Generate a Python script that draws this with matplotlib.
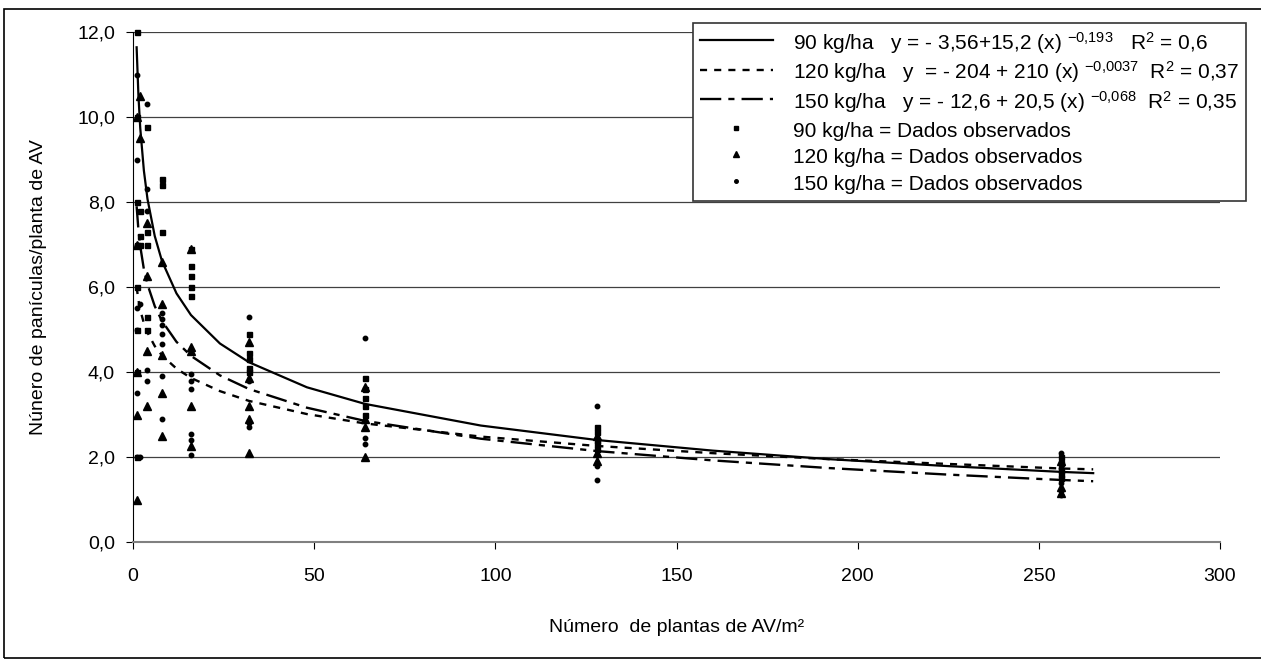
import matplotlib
matplotlib.use('Agg')
import matplotlib.pyplot as plt
from matplotlib.patches import Rectangle
from matplotlib.ticker import FuncFormatter

plt.rcParams['font.family'] = ['Liberation Sans', 'DejaVu Sans']
plt.rcParams['mathtext.fontset'] = 'custom'
plt.rcParams['mathtext.rm'] = 'Liberation Sans'
plt.rcParams['mathtext.it'] = 'Liberation Sans'
plt.rcParams['mathtext.default'] = 'regular'

# curves
curve_x = [1, 1.5, 2, 3, 4, 6, 8, 12, 16, 24, 32, 48, 64, 96, 128, 160, 192, 224, 256, 265]
curve_90 = [11.64, 10.50, 9.74, 8.74, 8.07, 7.20, 6.61, 5.85, 5.34, 4.67, 4.23, 3.64,
            3.25, 2.74, 2.40, 2.15, 1.95, 1.79, 1.65, 1.62]
curve_120 = [6.00, 5.69, 5.46, 5.15, 4.93, 4.61, 4.39, 4.08, 3.86, 3.55, 3.32, 3.01,
             2.79, 2.48, 2.26, 2.09, 1.95, 1.84, 1.73, 1.71]
curve_150 = [7.90, 7.34, 6.96, 6.42, 6.06, 5.55, 5.20, 4.71, 4.38, 3.92, 3.60, 3.16,
             2.85, 2.43, 2.14, 1.92, 1.74, 1.59, 1.46, 1.43]

# observed data (plants/m2, panicles/plant)
obs90_x = [1, 1, 1, 1, 1, 1, 1, 1,
           2, 2, 2,
           4, 4, 4, 4, 4,
           8, 8, 8,
           16, 16, 16, 16, 16,
           32, 32, 32, 32, 32,
           64, 64, 64, 64, 64,
           128, 128, 128, 128, 128,
           256, 256, 256, 256, 256]
obs90_y = [12.0, 10.0, 8.0, 7.0, 6.0, 5.0, 4.0, 2.0,
           7.8, 7.2, 7.0,
           9.76, 7.3, 7.0, 5.3, 5.0,
           8.55, 8.4, 7.3,
           6.9, 6.5, 6.25, 6.0, 5.8,
           4.9, 4.45, 4.3, 4.1, 4.0,
           3.85, 3.6, 3.4, 3.2, 3.0,
           2.7, 2.6, 2.4, 2.3, 2.2,
           2.0, 1.85, 1.7, 1.6, 1.5]

obs120_x = [1, 1, 1, 1, 1,
            2, 2,
            4, 4, 4, 4,
            8, 8, 8, 8, 8,
            16, 16, 16, 16, 16,
            32, 32, 32, 32, 32,
            64, 64, 64, 64,
            128, 128, 128,
            256, 256, 256]
obs120_y = [10.0, 7.0, 4.0, 3.0, 1.0,
            10.5, 9.5,
            7.5, 6.25, 4.5, 3.2,
            6.6, 5.6, 4.4, 3.5, 2.5,
            6.9, 4.6, 4.5, 3.2, 2.25,
            4.7, 3.85, 3.2, 2.9, 2.1,
            3.65, 2.9, 2.7, 2.0,
            2.5, 2.1, 1.9,
            1.9, 1.3, 1.15]

obs150_x = [1, 1, 1, 1, 1, 1, 1, 1,
            2, 2,
            4, 4, 4, 4, 4,
            8, 8, 8, 8, 8, 8, 8,
            16, 16, 16, 16, 16, 16,
            32, 32, 32, 32,
            64, 64, 64,
            128, 128, 128, 128,
            256, 256, 256, 256, 256]
obs150_y = [11.0, 9.0, 7.0, 5.5, 5.0, 4.0, 3.5, 2.0,
            5.6, 2.0,
            10.3, 8.3, 7.8, 4.05, 3.8,
            5.4, 5.25, 5.1, 4.9, 4.65, 3.9, 2.9,
            3.95, 3.8, 3.6, 2.55, 2.4, 2.05,
            5.3, 3.8, 2.8, 2.7,
            4.8, 2.45, 2.3,
            3.2, 2.05, 1.8, 1.45,
            2.1, 1.75, 1.4, 1.2, 1.1]

labels = ['90 kg/ha   y = - 3,56+15,2 (x) $^{-0{,}193}$   R$^{2}$ = 0,6',
          '120 kg/ha   y  = - 204 + 210 (x) $^{-0{,}0037}$  R$^{2}$ = 0,37',
          '150 kg/ha   y = - 12,6 + 20,5 (x) $^{-0{,}068}$  R$^{2}$ = 0,35',
          '90 kg/ha = Dados observados',
          '120 kg/ha = Dados observados',
          '150 kg/ha = Dados observados']

fig = plt.figure(figsize=(12.61, 6.59), dpi=100)
ax = fig.add_axes([133/1261, 1 - 542/659, (1220 - 133)/1261, (542 - 32)/659])

l1, = ax.plot(curve_x, curve_90, color='black', lw=1.6, linestyle='-')
l2, = ax.plot(curve_x, curve_120, color='black', lw=1.7, linestyle=(0, (3.0, 3.0)))
l3, = ax.plot(curve_x, curve_150, color='black', lw=1.7, linestyle=(0, (9.0, 3.0, 2.6, 3.0)))
s1, = ax.plot(obs90_x, obs90_y, 's', color='black', ms=3.6, ls='none', clip_on=False)
s2, = ax.plot(obs120_x, obs120_y, '^', color='black', ms=5.5, ls='none', clip_on=False)
s3, = ax.plot(obs150_x, obs150_y, 'o', color='black', ms=3.2, ls='none', clip_on=False)

ax.set_xlim(0, 300)
ax.set_ylim(0, 12)
ax.set_xticks([0, 50, 100, 150, 200, 250, 300])
ax.set_yticks([0, 2, 4, 6, 8, 10, 12])
ax.yaxis.set_major_formatter(FuncFormatter(lambda v, p: ('%.1f' % v).replace('.', ',')))
ax.grid(axis='y', color='#404040', lw=0.9)
ax.set_axisbelow(True)
for side in ['top', 'right']:
    ax.spines[side].set_visible(False)
ax.spines['left'].set_color('black')
ax.spines['bottom'].set_color('#808080')
ax.spines['bottom'].set_linewidth(1.5)
ax.tick_params(axis='both', direction='out', length=5, labelsize=14, colors='black')
ax.tick_params(axis='y', pad=8)
ax.tick_params(axis='x', pad=14)

ax.set_xlabel('Número  de plantas de AV/m²', fontsize=14, labelpad=24)
ax.set_ylabel('Núnero de panículas/planta de AV', fontsize=14, labelpad=22)

leg = fig.legend([l1, l2, l3, s1, s2, s3], labels, loc='upper left',
                 bbox_to_anchor=(693/1261, 1 - 23/659), fontsize=15,
                 frameon=True, fancybox=False, edgecolor='#333333',
                 handlelength=3.5, handleheight=1.3, handletextpad=1.0,
                 labelspacing=0.18, borderpad=0.32, borderaxespad=0,
                 markerscale=0.8)
leg.get_frame().set_linewidth(1.2)
leg.get_frame().set_alpha(1)

# outer border of the chart
fig.patches.append(Rectangle((4/1261, 1/659), 1.0, 1 - 10/659, transform=fig.transFigure,
                             fill=False, edgecolor='black', lw=1.2))

plt.savefig('out.png', dpi=100)
